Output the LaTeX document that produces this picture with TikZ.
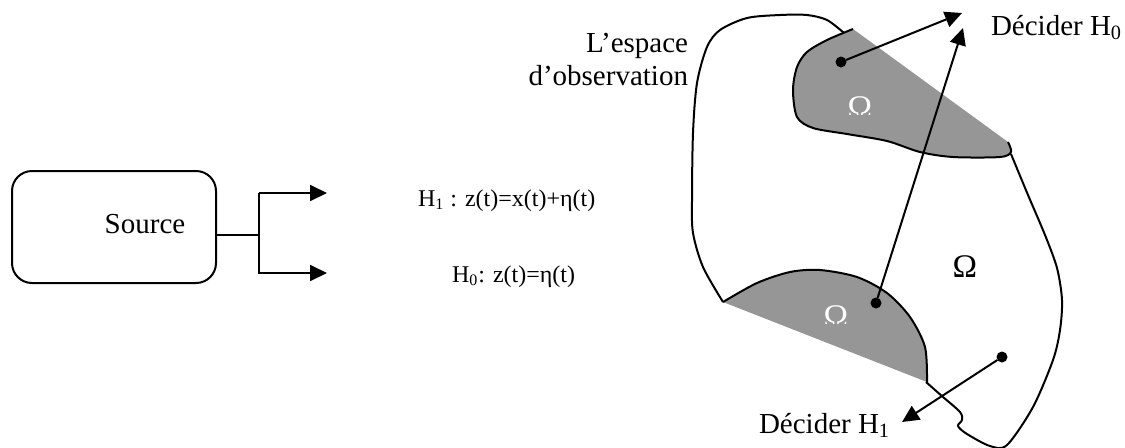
\documentclass[tikz,border=0pt]{standalone}
\usepackage{fontspec}
\setmainfont{Liberation Serif}
\usetikzlibrary{arrows.meta}
\definecolor{regiongray}{RGB}{150,150,150}
\begin{document}
\begin{tikzpicture}[x=0.5pt,y=-0.5pt,
  line width=1pt,
  every node/.style={inner sep=0pt, outer sep=0pt},
  lbl/.style={font=\fontsize{14.5}{17}\selectfont},
  omlbl/.style={font=\fontsize{16.5}{19}\selectfont},
  eqlbl/.style={font=\fontsize{12}{14}\selectfont},
  tip/.style={-{Triangle[length=8.5pt,width=8pt]}},
  srcbox/.style={draw, rounded corners=10pt, minimum width=102pt, minimum height=56pt},
  dot/.style={circle, fill=black, minimum size=5.5pt},
  region/.style={fill=regiongray},
  curve/.style={line width=1pt, line join=round}
]
\useasboundingbox (0,0) rectangle (1125,447);

% ---------- Source and hypotheses ----------
\node[srcbox] (src) at (114,227) {};
\node[lbl, anchor=base] (srctext) at (145,233) {Source};
\coordinate (br) at (259,235);
\coordinate (j1) at (259,193);
\coordinate (j2) at (259,274);
\coordinate (a1) at (327,193);
\coordinate (a2) at (327,273);
\draw (src.east |- br) -- (br);
\draw (j1) -- (j2);
\draw[tip] (j1) -- (a1);
\draw[tip] (259,273) -- (a2);
\node[eqlbl, anchor=base west] (eq1) at (418,206) {H\textsubscript{1} : z(t)=x(t)+η(t)};
\node[eqlbl, anchor=base west] (eq0) at (452,282) {H\textsubscript{0}: z(t)=η(t)};

% ---------- Observation space ----------
\fill[region] plot[smooth] coordinates {(853,29) (827,40) (807,52) (797,67) (793,90) (797,117) (813,128) (847,134) (887,141) (920,152) (953,157) (1000,157) (1011,152) (1008,142)} -- cycle;
\fill[region] plot[smooth] coordinates {(723,302) (757,283) (790,272) (820,270) (857,277) (887,293) (910,317) (925,347) (927,382)} -- cycle;

% upper shaded outline
\draw[curve] plot[smooth] coordinates {(853,29) (827,40) (807,52) (797,67) (793,90) (797,117) (813,128) (847,134) (887,141) (920,152) (953,157) (1000,157) (1011,152) (1008,142)};
% lower shaded outline
\draw[curve] plot[smooth] coordinates {(723,302) (757,283) (790,272) (820,270) (857,277) (887,293) (910,317) (925,347) (927,382)};
% outer left arc
\draw[curve] plot[smooth] coordinates {(844,33) (827,20) (807,15) (780,15) (747,18) (720,30) (707,47) (697,83) (693,133) (692,200) (693,233) (703,267) (723,302)};
% outer bottom and right arc
\draw[curve] plot[smooth, tension=0.5] coordinates {(926,382) (943,397) (960,412) (962,420) (958,426) (967,434) (990,446) (1007,445) (1033,407) (1053,360) (1060,330) (1062,300) (1057,268) (1045,235) (1028,195) (1011,154)};

% labels Omega
\node[omlbl, anchor=base] (om) at (965,277) {Ω};
\begin{scope}
  \clip (840,90) rectangle (880,114);
  \node[omlbl, anchor=base, text=white] (omup) at (860,118) {Ω};
\end{scope}
\begin{scope}
  \clip (815,300) rectangle (855,323);
  \node[omlbl, anchor=base, text=white] (omlow) at (836,327) {Ω};
\end{scope}

% dots and arrows
\node[dot] (d1) at (841,62) {};
\node[dot] (d2) at (876,303) {};
\node[dot] (d3) at (1002,357) {};
\coordinate (t1) at (962,13);
\coordinate (t2) at (963,28);
\coordinate (t3) at (902,422);
\draw[tip] (d1) -- (t1);
\draw[tip] (d2) -- (t2);
\draw[tip] (d3) -- (t3);

% texts
\node[lbl, anchor=base west] (dec0) at (991,35) {Décider H\textsubscript{0}};
\node[lbl, anchor=base west] (dec1) at (759,433) {Décider H\textsubscript{1}};
\node[lbl, anchor=base east] (esp1) at (688,52) {L’espace};
\node[lbl, anchor=base east] (esp2) at (688,85) {d’observation};
\end{tikzpicture}
\end{document}
